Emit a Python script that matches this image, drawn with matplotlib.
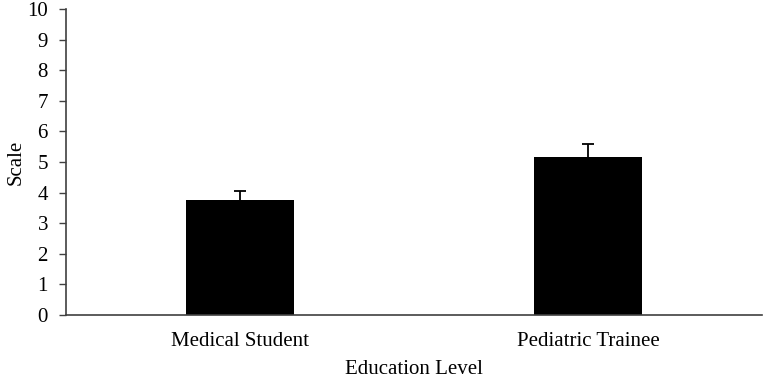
import matplotlib
matplotlib.use("Agg")
import matplotlib.pyplot as plt
import numpy as np

categories = ["Medical Student", "Pediatric Trainee"]
means = [3.76, 5.15]
errors_up = [0.30, 0.43]

plt.rcParams['font.family'] = ['Liberation Serif', 'DejaVu Serif']

fig = plt.figure(figsize=(7.65, 3.79), dpi=100)
ax = fig.add_axes([66 / 765, 1 - 315 / 379, (762 - 66) / 765, (315 - 9) / 379])

x = np.arange(len(categories))
ax.bar(x, means, width=0.31, color='black', zorder=2)
eb = ax.errorbar(x, means, yerr=[np.zeros(len(means)), errors_up], fmt='none',
                 ecolor='black', elinewidth=1.3, capsize=4.5, capthick=1.3, zorder=1)
# only the upper cap is shown
eb[1][0].set_visible(False)

ax.set_xlim(-0.5, 1.5)
ax.set_ylim(0, 10)
ax.set_yticks(range(0, 11))
ax.set_xticks(x)
ax.set_xticklabels(categories)
ax.tick_params(axis='x', length=0, pad=12, labelsize=15)
ax.tick_params(axis='y', length=5, width=1, color='#404040', pad=8, labelsize=15)

for side in ['top', 'right']:
    ax.spines[side].set_visible(False)
for side in ['left', 'bottom']:
    ax.spines[side].set_color('#404040')
    ax.spines[side].set_linewidth(1.2)

ax.set_xlabel("Education Level", fontsize=15, labelpad=7)
ax.set_ylabel("Scale", fontsize=15, labelpad=1)

fig.savefig("out.png", dpi=100)
